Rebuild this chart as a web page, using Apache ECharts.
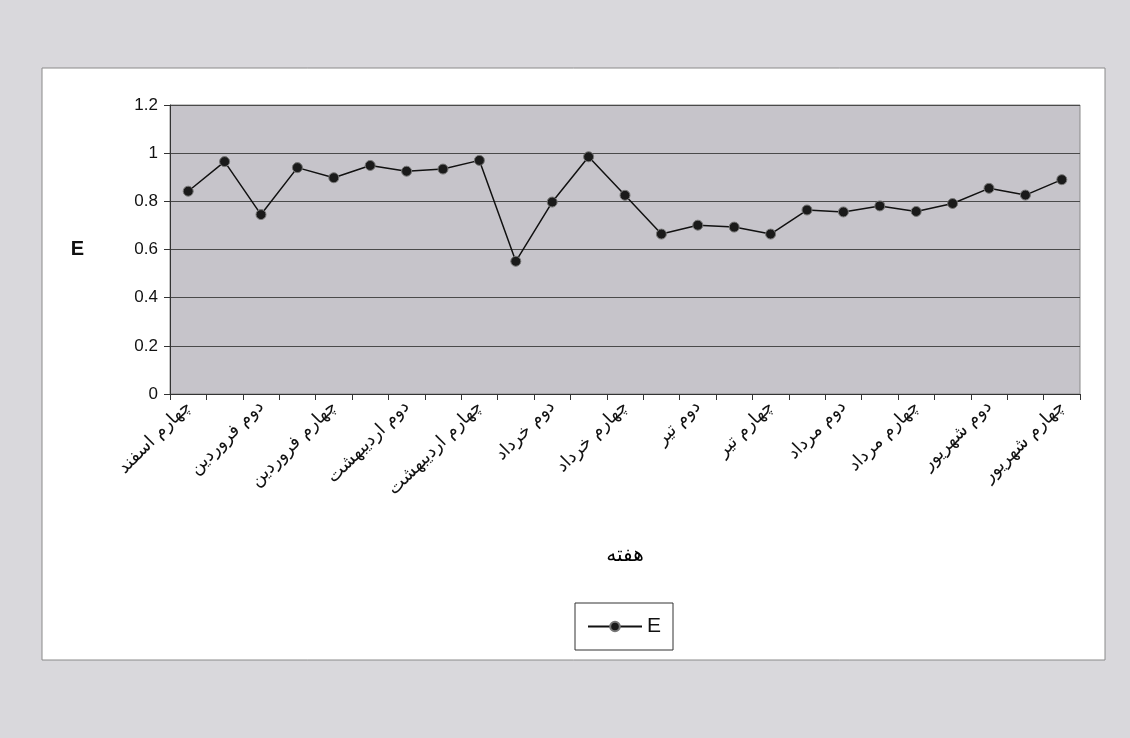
<!DOCTYPE html>
<html><head><meta charset="utf-8">
<script src="https://cdn.jsdelivr.net/npm/echarts@6/dist/echarts.min.js"></script>
<style>html,body{margin:0;padding:0;background:#d9d8dc;}#c{width:1130px;height:738px;}</style>
</head><body><div id="c"></div>
<script>
const categories = [
 'چهارم اسفند','اول فروردین','دوم فروردین','سوم فروردین','چهارم فروردین',
 'اول اردیبهشت','دوم اردیبهشت','سوم اردیبهشت','چهارم اردیبهشت',
 'اول خرداد','دوم خرداد','سوم خرداد','چهارم خرداد',
 'اول تیر','دوم تیر','سوم تیر','چهارم تیر',
 'اول مرداد','دوم مرداد','سوم مرداد','چهارم مرداد',
 'اول شهریور','دوم شهریور','سوم شهریور','چهارم شهریور'
];
const valuesE = [0.842,0.965,0.745,0.94,0.898,0.949,0.925,0.934,0.97,0.551,0.797,0.985,0.825,0.664,0.701,0.693,0.664,0.764,0.756,0.781,0.758,0.791,0.854,0.826,0.89];

const chart = echarts.init(document.getElementById('c'));
chart.setOption({
  animation:false,
  backgroundColor:'#d9d8dc',
  graphic:[{type:'rect',z:-10,shape:{x:42,y:68,width:1063,height:592},style:{fill:'#ffffff',stroke:'#8a8a8a',lineWidth:1}}],
  grid:{left:170,right:50,top:105,bottom:344,show:true,backgroundColor:'#c6c4ca',borderColor:'#8a8a8a',borderWidth:1},
  legend:{data:['E'],left:575,top:603,width:100,height:47,orient:'horizontal',
    padding:[13,12,13,12],borderColor:'#333',borderWidth:1,backgroundColor:'#fff',
    itemWidth:54,itemHeight:12,itemGap:8,
    textStyle:{fontFamily:'Liberation Sans, Arial',fontSize:21,color:'#111'}},
  xAxis:{type:'category',data:categories,boundaryGap:true,
    name:'هفته',nameLocation:'middle',nameGap:152,
    nameTextStyle:{fontFamily:'DejaVu Sans',fontWeight:'normal',fontSize:20,color:'#000'},
    axisLine:{lineStyle:{color:'#333',width:1}},
    axisTick:{show:true,interval:0,length:6,lineStyle:{color:'#333'}},
    axisLabel:{interval:1,rotate:45,fontFamily:'DejaVu Sans',fontSize:18,color:'#111',margin:10}},
  yAxis:{type:'value',min:0,max:1.2,interval:0.2,
    name:'E',nameLocation:'middle',nameGap:86,nameRotate:0,
    nameTextStyle:{fontFamily:'Liberation Sans, Arial',fontWeight:'bold',fontSize:20,color:'#111'},
    axisLine:{show:true,lineStyle:{color:'#333'}},
    axisTick:{show:true,length:6,lineStyle:{color:'#333'}},
    axisLabel:{fontFamily:'Liberation Sans, Arial',fontSize:17,color:'#111',margin:12,
      formatter:v=>String(Math.round(v*10)/10)},
    splitLine:{lineStyle:{color:'#4a4a4a',width:1}}},
  series:[{name:'E',type:'line',data:valuesE,symbol:'circle',symbolSize:10,
    lineStyle:{color:'#111',width:1.5},
    itemStyle:{color:'#1a1a1a',borderColor:'#777',borderWidth:1}}]
});
</script></body></html>
